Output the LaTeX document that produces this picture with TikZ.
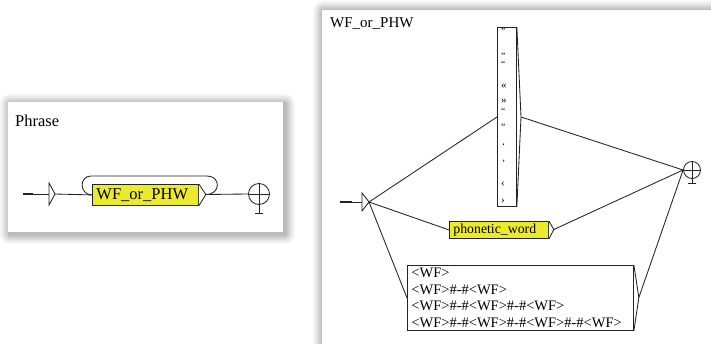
\documentclass[tikz,border=0pt]{standalone}
\usepackage{fontspec}
\setmainfont{Liberation Serif}
\definecolor{boxyellow}{RGB}{236,234,44}
\definecolor{ink}{RGB}{35,35,35}
\begin{document}
\begin{tikzpicture}[x=1pt,y=-1pt,
  wire/.style={line width=0.85pt, draw=ink},
  ybox/.style={draw=ink, line width=0.85pt, fill=boxyellow, inner ysep=0pt, anchor=north west, align=left},
  wbox/.style={draw=ink, line width=0.85pt, fill=white, inner ysep=0pt, anchor=north west, align=left},
  fstate/.style={circle, draw=ink, line width=0.85pt, inner sep=0pt},
  sym/.style={font=\fontsize{9.5}{9.5}\selectfont, inner sep=0pt, anchor=west}]
\useasboundingbox (0,0) rectangle (711,344);
% panel shadows
\foreach \i/\o in {10/0.04,8/0.05,6/0.06,4/0.07,2/0.08} {
  \fill[black, opacity=\o, rounded corners=\i pt] (8-\i+2,102-\i+2) rectangle (283+\i+2,232+\i+2);
  \fill[black, opacity=\o, rounded corners=\i pt] (322-\i+1,10-\i+1) rectangle (720,360);
}
\fill[white] (8,102) rectangle (283,232);
\fill[white] (322,10) rectangle (711,344);

% ---------- left panel: Phrase ----------
\node[anchor=base west, inner sep=0pt, font=\fontsize{16.5}{16.5}\selectfont] (t1) at (15,127) {Phrase};
\coordinate (i1a) at (23,194);
\coordinate (i1b) at (33,194);
\coordinate (i1c) at (49,194);
\coordinate (i1) at (55,194);
\draw[line width=2.2pt, draw=ink] (i1a) -- (i1b);
\draw[wire] (i1b) -- (i1c);
\draw[wire] (49,183) -- (i1) -- (49,205) -- cycle;
\node[ybox, inner xsep=4pt, text width=98pt, minimum height=21pt,
      font=\fontsize{16.5}{16.5}\selectfont] (b1) at (92,184) {WF\_or\_PHW};
\draw[wire, fill=white] (b1.north east) -- ++(7,10.5) coordinate (b1p) -- (b1.south east);
\draw[wire] (b1p) .. controls (221,194.5) and (221,176) .. (207,176) -- (91,176)
  .. controls (79,176) and (79,194.5) .. (b1.west);
\draw[wire] (i1) -- (b1.west);
\node[fstate, minimum size=21pt] (f1) at (259,194) {};
\draw[wire] (f1.north) -- (f1.south) (f1.west) -- (f1.east);
\draw[wire] (f1.south) -- ++(0,9) coordinate (f1s);
\draw[wire] ([xshift=-4pt]f1s) -- ([xshift=4pt]f1s);
\draw[wire] (b1p) -- (f1.west);

% ---------- right panel: WF_or_PHW ----------
\node[anchor=base west, inner sep=0pt, font=\fontsize{15}{15}\selectfont] (t2) at (330,28) {WF\_or\_PHW};
\coordinate (i2a) at (340,202);
\coordinate (i2b) at (352,202);
\coordinate (i2c) at (362,202);
\coordinate (i2) at (369,202);
\draw[line width=2.2pt, draw=ink] (i2a) -- (i2b);
\draw[wire] (i2b) -- (i2c);
\draw[wire] (362,193) -- (i2) -- (362,211) -- cycle;

% tall box of punctuation
\node[wbox, inner sep=0pt, minimum width=19pt, minimum height=179pt] (tb) at (497,27) {};
\draw[wire] (tb.north east) -- (521,117) coordinate (tbp) -- (tb.south east);
\coordinate (tbl) at (497,117);
\node[sym] (s1) at (501,31) {"};
\node[sym] (s2) at (501,56) {”};
\node[sym] (s3) at (501,64) {“};
\node[sym, font=\fontsize{11}{11}\selectfont] (s4) at (501,86) {«};
\node[sym, font=\fontsize{11}{11}\selectfont] (s5) at (501,101) {»};
\node[sym] (s6) at (501,111) {“};
\node[sym] (s7) at (501,127) {”};
\node[sym] (s8) at (502,146) {‘};
\node[sym] (s9) at (502,163) {’};
\node[sym, font=\fontsize{11}{11}\selectfont] (s10) at (501,184) {‹};
\node[sym, font=\fontsize{11}{11}\selectfont] (s11) at (501,201) {›};

% phonetic_word box
\node[ybox, inner xsep=4pt, text width=91pt, minimum height=17pt,
      font=\fontsize{13.8}{13.8}\selectfont] (pw) at (449,221) {phonetic\_word};
\draw[wire, fill=white] (pw.north east) -- ++(5,8.5) coordinate (pwp) -- (pw.south east);

% WF box
\node[wbox, inner xsep=4pt, text width=218pt, minimum height=65pt,
      font=\fontsize{14.5}{16.7}\selectfont] (wb) at (407,265)
  {<WF>\\<WF>\#-\#<WF>\\<WF>\#-\#<WF>\#-\#<WF>\\<WF>\#-\#<WF>\#-\#<WF>\#-\#<WF>};
\draw[wire] (wb.north east) -- ++(5,32.5) coordinate (wbp) -- (wb.south east);

% final state
\node[fstate, minimum size=17pt] (f2) at (692,170) {};
\draw[wire] (f2.north) -- (f2.south) (f2.west) -- (f2.east);
\draw[wire] (f2.south) -- ++(0,5) coordinate (f2s);
\draw[wire] ([xshift=-4pt]f2s) -- ([xshift=4pt]f2s);

% connectors
\draw[wire] (i2) -- (tbl);
\draw[wire] (i2) -- (pw.west);
\draw[wire] (i2) -- (wb.west);
\draw[wire] (tbp) -- (f2.west);
\draw[wire] (pwp) -- (f2.west);
\draw[wire] (wbp) -- (f2.west);
\end{tikzpicture}
\end{document}
